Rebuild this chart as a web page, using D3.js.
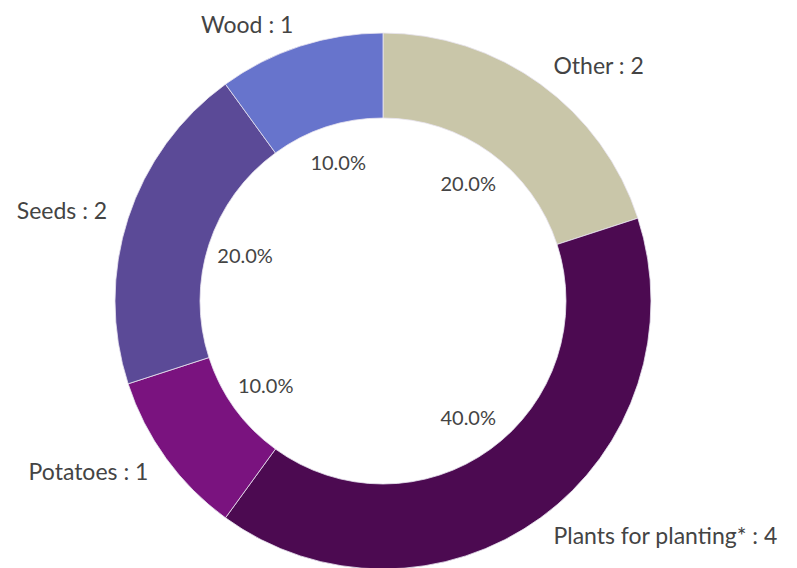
<!DOCTYPE html>
<html>
<head>
<meta charset="utf-8">
<script src="https://cdn.jsdelivr.net/npm/d3@7"></script>
<style>
  body { margin: 0; background: #fff; }
  text { font-family: Lato, "Open Sans", sans-serif; fill: #444; }
</style>
</head>
<body>
<div id="chart"></div>
<script>
var width = 797, height = 568;
var cx = 383, cy = 301,
    outerR = 268, innerR = 183,
    pctR = 145, labelR = 290;

// data, clockwise from 12 o'clock
var categories = ["Other", "Plants for planting*", "Potatoes", "Seeds", "Wood"];
var values = [2, 4, 1, 2, 1];
var colours = ["#c9c6a9", "#4c0a51", "#7a137f", "#5b4a97", "#6774cc"];

var data = categories.map(function(c, i) { return {name: c, value: values[i]}; });
var total = d3.sum(values);

var svg = d3.select("#chart").append("svg")
    .attr("width", width)
    .attr("height", height);

var g = svg.append("g")
    .attr("transform", "translate(" + cx + "," + cy + ")");

var colour = d3.scaleOrdinal().domain(categories).range(colours);

var pie = d3.pie().sort(null).value(function(d) { return d.value; });
var arc = d3.arc().innerRadius(innerR).outerRadius(outerR);
var pctArc = d3.arc().innerRadius(pctR).outerRadius(pctR);
var labelArc = d3.arc().innerRadius(labelR).outerRadius(labelR);

var arcs = pie(data);

g.selectAll(".slice")
    .data(arcs)
  .enter().append("path")
    .attr("class", "slice")
    .attr("d", arc)
    .attr("fill", function(d) { return colour(d.data.name); })
    .attr("stroke", "#e8e4f0")
    .attr("stroke-width", 0.8);

g.selectAll(".pct")
    .data(arcs)
  .enter().append("text")
    .attr("class", "pct")
    .attr("transform", function(d) { return "translate(" + pctArc.centroid(d) + ")"; })
    .attr("text-anchor", "middle")
    .attr("dy", "0.35em")
    .style("font-size", "20px")
    .text(function(d) { return (d.data.value / total * 100).toFixed(1) + "%"; });

g.selectAll(".lbl")
    .data(arcs)
  .enter().append("text")
    .attr("class", "lbl")
    .attr("transform", function(d) { return "translate(" + labelArc.centroid(d) + ")"; })
    .attr("text-anchor", function(d) {
      var mid = (d.startAngle + d.endAngle) / 2;
      return mid < Math.PI ? "start" : "end";
    })
    .attr("dy", "0.35em")
    .style("font-size", "23px")
    .text(function(d) { return d.data.name + " : " + d.data.value; });
</script>
</body>
</html>
